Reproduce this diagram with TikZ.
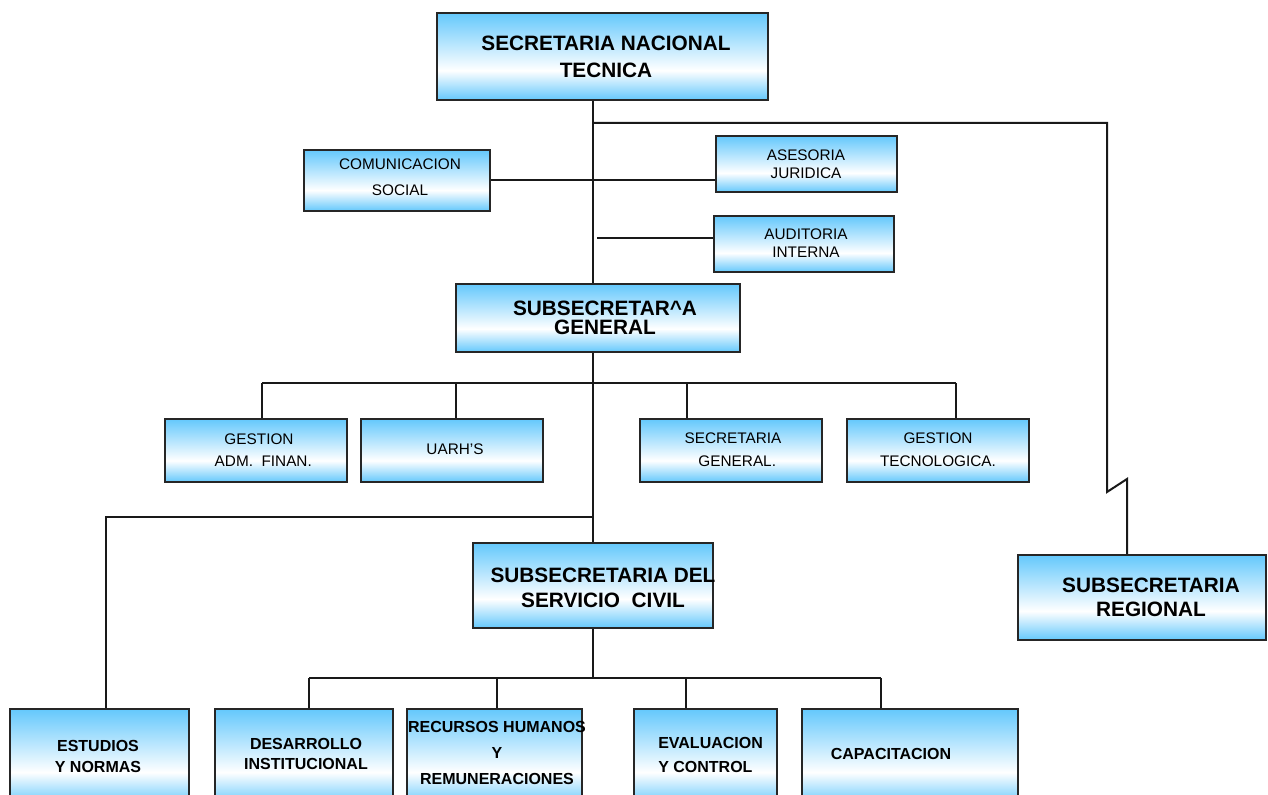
\documentclass[tikz,border=0pt]{standalone}
\usepackage{fontspec}
\setmainfont{Liberation Sans}
\definecolor{sky}{RGB}{100,200,252}
\pgfdeclareverticalshading{orgsh}{100bp}{color(0bp)=(sky); color(25bp)=(sky); color(42bp)=(white); color(75bp)=(sky); color(100bp)=(sky)}
\newcommand\obox[5]{\node[box, minimum width={(#4-#2)*0.75pt}, minimum height={(#5-#3)*0.75pt}] (#1) at ({(#2+#4)/2},{(#3+#5)/2}) {};}
\begin{document}
\begin{tikzpicture}[x=0.75pt,y=-0.75pt,
  box/.style={draw=black!85, line width=1.5pt, shading=orgsh, inner sep=0pt},
  conn/.style={line width=1.5pt, black!90},
  big/.style={font=\fontsize{15.6}{#1}\selectfont\bfseries, align=center, inner sep=0pt},
  small/.style={font=\fontsize{11.5}{#1}\selectfont, align=center, inner sep=0pt},
  low/.style={font=\fontsize{12}{#1}\selectfont\bfseries, align=center, inner sep=0pt}]
\useasboundingbox (0,0) rectangle (1268,795);
% boxes
\obox{snt}{437}{13}{768}{100}
\obox{cs}{304}{150}{490}{211}
\obox{aj}{716}{136}{897}{192}
\obox{aud}{714}{216}{894}{272}
\obox{sg}{456}{284}{740}{352}
\obox{gaf}{165}{419}{347}{482}
\obox{uarh}{361}{419}{543}{482}
\obox{secg}{640}{419}{822}{482}
\obox{gt}{847}{419}{1029}{482}
\obox{ssc}{473}{543}{713}{628}
\obox{sr}{1018}{555}{1266}{640}
\obox{est}{10}{709}{189}{805}
\obox{des}{215}{709}{393}{805}
\obox{rh}{407}{709}{582}{805}
\obox{eva}{634}{709}{777}{805}
\obox{cap}{802}{709}{1018}{805}
% texts
\node[big=20pt] (snt-t) at (606,57) {SECRETARIA NACIONAL\\TECNICA};
\node[big=14.5pt] (sg-t) at (605,318) {SUBSECRETAR\^{}A\\GENERAL};
\node[big=18.75pt] (ssc-t) at (603,588) {SUBSECRETARIA DEL\\SERVICIO\ \ CIVIL};
\node[big=18pt] (sr-t) at (1151,597) {SUBSECRETARIA\\REGIONAL};
\node[small=19.5pt] (cs-t) at (400,177) {COMUNICACION\\SOCIAL};
\node[small=13.5pt] (aj-t) at (806,164) {ASESORIA\\JURIDICA};
\node[small=13.5pt] (aud-t) at (806,243) {AUDITORIA\\INTERNA};
\node[small=17pt] (gaf-t) at (259,450) {GESTION\\\ \ ADM.\ \ FINAN.};
\node[small=17pt] (uarh-t) at (455,449) {UARH’S};
\node[small=17pt] (secg-t) at (733,450) {SECRETARIA\\\ \ GENERAL.};
\node[small=17pt] (gt-t) at (938,450) {GESTION\\TECNOLOGICA.};
\node[low=15.75pt] (est-t) at (98,756) {ESTUDIOS\\Y NORMAS};
\node[low=15pt] (des-t) at (306,754) {DESARROLLO\\INSTITUCIONAL};
\node[low=19.5pt] (rh-t) at (497,753) {RECURSOS HUMANOS\\Y\\REMUNERACIONES};
\node[low=18pt, align=left, anchor=west] (eva-t) at (658,755) {EVALUACION\\Y CONTROL};
\node[low=18pt] (cap-t) at (891,754) {CAPACITACION};
% coordinates
\coordinate (tk) at (593,0);
\coordinate (j1) at (593,123);
\coordinate (z1) at (1107,492);
\coordinate (z2) at (1127,479);
\coordinate (ja) at (597,238);
\coordinate (h1a) at (262,383);
\coordinate (h1b) at (456,383);
\coordinate (h1c) at (687,383);
\coordinate (h1d) at (956,383);
\coordinate (h2) at (106,517);
\coordinate (h3a) at (309,678);
\coordinate (h3b) at (497,678);
\coordinate (h3c) at (686,678);
\coordinate (h3d) at (881,678);
% connectors
\draw[conn] (snt.south -| tk) -- (sg.north -| tk);
\draw[conn] (j1) -| (z1) -- (z2) -- (sr.north -| z2);
\draw[conn] (cs.east) -- (cs.east -| aj.west);
\draw[conn] (ja) -- (ja -| aud.west);
\draw[conn] (sg.south -| tk) -- (ssc.north -| tk);
\draw[conn] (h1a) -- (h1d);
\draw[conn] (h1a) -- (h1a |- gaf.north);
\draw[conn] (h1b) -- (h1b |- uarh.north);
\draw[conn] (h1c) -- (h1c |- secg.north);
\draw[conn] (h1d) -- (h1d |- gt.north);
\draw[conn] (h2 -| tk) -- (h2) -- (h2 |- est.north);
\draw[conn] (ssc.south -| tk) -- (tk |- h3a);
\draw[conn] (h3a) -- (h3d);
\draw[conn] (h3a) -- (h3a |- des.north);
\draw[conn] (h3b) -- (h3b |- rh.north);
\draw[conn] (h3c) -- (h3c |- eva.north);
\draw[conn] (h3d) -- (h3d |- cap.north);
\end{tikzpicture}
\end{document}
